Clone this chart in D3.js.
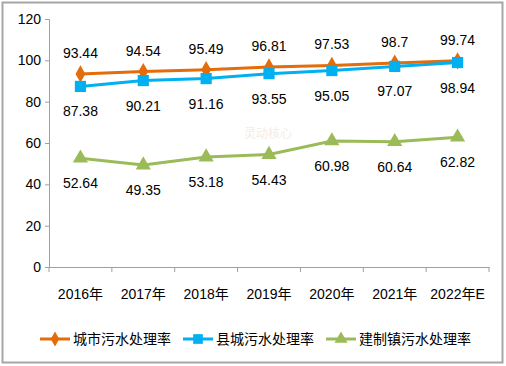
<!DOCTYPE html>
<html><head><meta charset="utf-8">
<script src="https://cdn.jsdelivr.net/npm/d3@7"></script>
<style>body{margin:0;background:#fff}svg{display:block}</style>
</head><body>
<svg id="c" width="506" height="366"></svg>
<script>
const categories = ["2016年","2017年","2018年","2019年","2020年","2021年","2022年E"];
const cityRate = [93.44,94.54,95.49,96.81,97.53,98.7,99.74];
const countyRate = [87.38,90.21,91.16,93.55,95.05,97.07,98.94];
const townRate = [52.64,49.35,53.18,54.43,60.98,60.64,62.82];
const seriesNames = ["城市污水处理率","县城污水处理率","建制镇污水处理率"];
const yTicks = [0,20,40,60,80,100,120];

const svg = d3.select("#c");
const font = "'Liberation Sans', 'Noto Sans CJK SC', sans-serif";
svg.append("rect").attr("x",2.5).attr("y",2.5).attr("width",500).attr("height",360)
  .attr("fill","#fff").attr("stroke","#a6a6a6").attr("stroke-width",2);

const x = d3.scaleBand().domain(categories).range([49,489]);
const y = d3.scaleLinear().domain([0,120]).range([267,19]);

// y axis
const ya = svg.append("g").attr("transform","translate(49,0)")
  .call(d3.axisLeft(y).tickValues(yTicks).tickSize(4).tickPadding(4));
ya.select(".domain").attr("stroke","#a0a0a0");
ya.selectAll(".tick line").attr("stroke","#a0a0a0");
ya.selectAll("text").attr("font-family",font).attr("font-size",14).attr("fill","#000");

// x axis
const xa = svg.append("g").attr("transform","translate(0,267)")
  .call(d3.axisBottom(x).tickSize(0).tickPadding(22));
xa.select(".domain").attr("stroke","#a0a0a0");
xa.selectAll("text").attr("font-family",font).attr("font-size",14).attr("fill","#000");
const bounds = categories.map(c=>x(c)).concat([x.range()[1]]);
svg.append("g").selectAll("line").data(bounds).join("line")
  .attr("x1",d=>d).attr("x2",d=>d).attr("y1",267).attr("y2",272).attr("stroke","#a0a0a0");

// watermark
svg.append("text").attr("x",268).attr("y",138).attr("text-anchor","middle")
  .attr("font-family",font).attr("font-size",12).attr("fill","#f6ebe4").text("灵动核心");

const cx = c => x(c) + x.bandwidth()/2;
const series = [
  {name:seriesNames[0], data:cityRate, color:"#E46C0A", sym:d3.symbolDiamond, size:85, dy:-16},
  {name:seriesNames[1], data:countyRate, color:"#00B0F0", sym:d3.symbolSquare, size:125, dy:30},
  {name:seriesNames[2], data:townRate, color:"#9BBB59", sym:d3.symbolTriangle, size:100, dy:30}
];
const line = d3.line().x((d,i)=>cx(categories[i])).y(d=>y(d));
const order = [2,0,1];
order.forEach(k=>{
  const s = series[k];
  const g = svg.append("g");
  g.append("path").attr("d",line(s.data)).attr("fill","none").attr("stroke",s.color).attr("stroke-width",3);
  g.selectAll("path.m").data(s.data).join("path").attr("class","m")
    .attr("transform",(d,i)=>`translate(${cx(categories[i])},${y(d)})`)
    .attr("d",d3.symbol().type(s.sym).size(s.size)).attr("fill",s.color);
});
series.forEach(s=>{
  svg.append("g").selectAll("text").data(s.data).join("text")
    .attr("x",(d,i)=>cx(categories[i])).attr("y",d=>y(d)+s.dy)
    .attr("text-anchor","middle").attr("font-family",font).attr("font-size",14).attr("fill","#000")
    .text(d=>d);
});

// legend
const legX = [40,183,326];
series.forEach((s,i)=>{
  const g = svg.append("g").attr("transform",`translate(${legX[i]},339)`);
  g.append("line").attr("x1",0).attr("x2",30).attr("stroke",s.color).attr("stroke-width",3);
  g.append("path").attr("transform","translate(15,0)").attr("d",d3.symbol().type(s.sym).size(s.size*0.75)).attr("fill",s.color);
  g.append("text").attr("x",33).attr("y",5).attr("font-family",font).attr("font-size",14).attr("fill","#000").text(s.name);
});
</script>
</body></html>
